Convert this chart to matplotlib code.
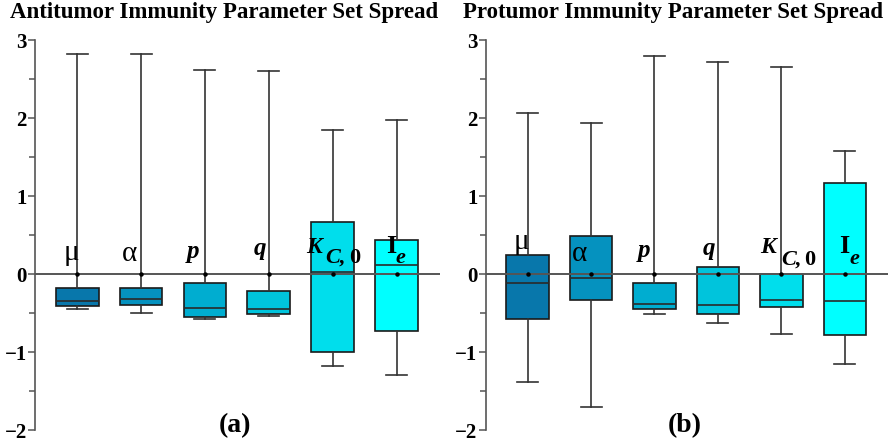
import matplotlib
matplotlib.use("Agg")
import matplotlib.pyplot as plt

plt.rcParams["font.family"] = ["Liberation Serif", "DejaVu Serif"]
plt.rcParams["axes.unicode_minus"] = True

# Standardized parameter spread (z-scores): box statistics per parameter
params = ["mu", "alpha", "p", "q", "K", "Ie"]
colors = ["#0877AB", "#0592BF", "#00ADD0", "#00C4DC", "#00DEEC", "#00FFFF"]

anti_whislo = [-0.45, -0.50, -0.577, -0.538, -1.18, -1.29]
anti_q1 = [-0.415, -0.40, -0.547, -0.51, -1.00, -0.73]
anti_med = [-0.34, -0.325, -0.44, -0.449, 0.02, 0.115]
anti_q3 = [-0.18, -0.18, -0.115, -0.218, 0.67, 0.43]
anti_whishi = [2.82, 2.82, 2.62, 2.60, 1.85, 1.98]
anti_mean = [0, 0, 0, 0, 0, 0]

pro_whislo = [-1.385, -1.70, -0.51, -0.632, -0.773, -1.15]
pro_q1 = [-0.573, -0.337, -0.453, -0.517, -0.427, -0.786]
pro_med = [-0.115, -0.051, -0.385, -0.402, -0.338, -0.342]
pro_q3 = [0.24, 0.483, -0.12, 0.094, 0.0, 1.163]
pro_whishi = [2.06, 1.94, 2.79, 2.72, 2.65, 1.58]
pro_mean = [0, 0, 0, 0, 0, 0]

titles = ["Antitumor Immunity Parameter Set Spread", "Protumor Immunity Parameter Set Spread"]
panel_tags = ["(a)", "(b)"]
yticks = [-2, -1, 0, 1, 2, 3]

fig = plt.figure(figsize=(8.89, 4.43), dpi=100)
W, H = 889.0, 443.0
ax_bottom = 1 - 430 / H
ax_height = (430 - 40) / H
axL = fig.add_axes([35 / W, ax_bottom, (440 - 35) / W, ax_height])
axR = fig.add_axes([485.7 / W, ax_bottom, (888 - 485.7) / W, ax_height])

# label layout: (text, x offset from box centre, baseline y, style, weight, size)
label_specs = {
    "anti": [
        [("μ", -0.21, 0.18, "normal", "normal", 21)],
        [("α", -0.30, 0.17, "normal", "normal", 21)],
        [("p", -0.29, 0.20, "italic", "bold", 18)],
        [("q", -0.24, 0.24, "italic", "bold", 18)],
        [("K", -0.41, 0.27, "italic", "bold", 17), ("C,", -0.12, 0.14, "italic", "bold", 16),
         ("0", 0.25, 0.14, "normal", "bold", 16)],
        [("I", -0.17, 0.27, "normal", "bold", 19), ("e", -0.01, 0.14, "italic", "bold", 16)],
    ],
    "pro": [
        [("μ", -0.22, 0.32, "normal", "normal", 21)],
        [("α", -0.30, 0.17, "normal", "normal", 21)],
        [("p", -0.26, 0.22, "italic", "bold", 18)],
        [("q", -0.24, 0.25, "italic", "bold", 18)],
        [("K", -0.33, 0.27, "italic", "bold", 17), ("C,", 0.0, 0.115, "italic", "bold", 16),
         ("0", 0.36, 0.115, "normal", "bold", 16)],
        [("I", -0.09, 0.27, "normal", "bold", 19), ("e", 0.07, 0.13, "italic", "bold", 16)],
    ],
}

datasets = [
    (axL, anti_whislo, anti_q1, anti_med, anti_q3, anti_whishi, anti_mean, "anti"),
    (axR, pro_whislo, pro_q1, pro_med, pro_q3, pro_whishi, pro_mean, "pro"),
]

for i, (ax, lo, q1, med, q3, hi, mean, key) in enumerate(datasets):
    stats = []
    for j in range(len(params)):
        stats.append({"whislo": lo[j], "q1": q1[j], "med": med[j], "q3": q3[j],
                      "whishi": hi[j], "mean": mean[j], "label": params[j]})
    positions = list(range(1, len(params) + 1))
    bp = ax.bxp(stats, positions=positions, widths=0.67, capwidths=0.33,
                patch_artist=True, showmeans=True, showfliers=False,
                boxprops=dict(edgecolor="#1a1a1a", linewidth=1.2),
                medianprops=dict(color="#2a2a2a", linewidth=1.2),
                whiskerprops=dict(color="#333333", linewidth=1.2),
                capprops=dict(color="#333333", linewidth=1.2),
                meanprops=dict(marker="o", markersize=2.2, markerfacecolor="black",
                               markeredgecolor="black"),
                zorder=2)
    for patch, c in zip(bp["boxes"], colors):
        patch.set_facecolor(c)
    for m in bp["means"]:
        m.set_zorder(5)

    ax.axhline(0, color="#555555", linewidth=1.4, zorder=4)

    ax.set_xlim(0.34, 6.68)
    ax.set_ylim(-2, 3)
    ax.set_yticks(yticks)
    ax.set_yticks([-1.5, -0.5, 0.5, 1.5, 2.5], minor=True)
    ax.set_xticks([])
    for s in ["top", "right", "bottom"]:
        ax.spines[s].set_visible(False)
    ax.spines["left"].set_color("#555555")
    ax.spines["left"].set_linewidth(1.2)
    ax.tick_params(axis="y", which="major", direction="out", length=5, width=1.1,
                   color="#555555", labelsize=15, pad=1)
    ax.tick_params(axis="y", which="minor", direction="out", length=4, width=1.1,
                   color="#555555")
    for lab in ax.get_yticklabels():
        lab.set_fontweight("bold")

    for j, parts in enumerate(label_specs[key]):
        for text, dx, y, style, weight, size in parts:
            ax.text(positions[j] + dx, y, text, ha="left", va="baseline",
                    fontsize=size, fontstyle=style, fontweight=weight, zorder=6)

    ax.text(3.47, -1.94, panel_tags[i], ha="center", va="center",
            fontsize=20, fontweight="bold")

fig.text(10 / W, 1 - 2 / H, titles[0], ha="left", va="top", fontsize=16.5,
         fontweight="bold")
fig.text(463 / W, 1 - 2 / H, titles[1], ha="left", va="top", fontsize=16.5,
         fontweight="bold")

fig.savefig("out.png", dpi=100)
